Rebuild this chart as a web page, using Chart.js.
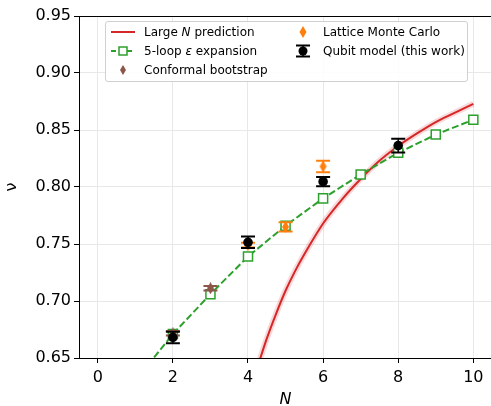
<!DOCTYPE html>
<html>
<head>
<meta charset="utf-8">
<script src="https://cdn.jsdelivr.net/npm/chart.js@4/dist/chart.umd.min.js"></script>
<style>
  html, body { margin: 0; padding: 0; background: #fff; overflow: hidden; }
  #wrap { position: relative; width: 500px; height: 406px; }
  .legend {
    position: absolute; left: 105px; top: 21px; width: 361px; height: 59px;
    border: 1px solid #d0d0d0; border-radius: 3px; background: rgba(255,255,255,0.85);
    font-family: 'DejaVu Sans', sans-serif; font-size: 12px; color: #000;
  }
  .item { position: absolute; white-space: nowrap; line-height: 14px; }
  .item svg { position: absolute; top: 0; }
</style>
</head>
<body>
<div id="wrap">
  <canvas id="chart"></canvas>
  <div class="legend">
    <div class="item" style="left:4px;top:3px;">
      <svg width="26" height="14" style="left:0"><line x1="1" y1="7" x2="25" y2="7" stroke="#d62728" stroke-width="2"/></svg>
      <span style="margin-left:34px">Large <i>N</i> prediction</span>
    </div>
    <div class="item" style="left:4px;top:22px;">
      <svg width="26" height="14" style="left:0"><line x1="1" y1="7" x2="25" y2="7" stroke="#2ca02c" stroke-width="2" stroke-dasharray="5 3"/><rect x="9" y="3" width="8" height="8" fill="#fff" stroke="#2ca02c" stroke-width="1.5"/></svg>
      <span style="margin-left:34px">5-loop <i>ε</i> expansion</span>
    </div>
    <div class="item" style="left:4px;top:41px;">
      <svg width="26" height="14" style="left:0"><polygon points="13,2 16,7 13,12 10,7" fill="#8c564b"/></svg>
      <span style="margin-left:34px">Conformal bootstrap</span>
    </div>
    <div class="item" style="left:184px;top:3px;">
      <svg width="26" height="14" style="left:0"><polygon points="13,1 16.5,7 13,13 9.5,7" fill="#ff7f0e"/></svg>
      <span style="margin-left:33px">Lattice Monte Carlo</span>
    </div>
    <div class="item" style="left:184px;top:22px;">
      <svg width="26" height="14" style="left:0"><line x1="13" y1="1" x2="13" y2="13" stroke="#000" stroke-width="1.5"/><line x1="6" y1="1.5" x2="20" y2="1.5" stroke="#000" stroke-width="2"/><line x1="6" y1="12.5" x2="20" y2="12.5" stroke="#000" stroke-width="2"/><circle cx="13" cy="7" r="4.5" fill="#000"/></svg>
      <span style="margin-left:33px">Qubit model (this work)</span>
    </div>
  </div>
</div>
<script>
// axis ticks
const xTicks = [0, 2, 4, 6, 8, 10];
const yTicks = [0.65, 0.70, 0.75, 0.80, 0.85, 0.90, 0.95];

// large N prediction (red curve)
const nLarge = [4.3, 4.5, 4.75, 5, 5.25, 5.5, 6, 6.5, 7, 7.5, 8, 8.5, 9, 9.5, 10];
const nuLarge = [0.647, 0.667, 0.689, 0.709, 0.726, 0.741, 0.768, 0.789, 0.807, 0.823, 0.836, 0.847, 0.857, 0.865, 0.873];

// 5-loop epsilon expansion
const nEps = [1, 2, 3, 4, 5, 6, 7, 8, 9, 10];
const nuEps = [0.630, 0.671, 0.706, 0.739, 0.766, 0.790, 0.811, 0.830, 0.846, 0.859];

// conformal bootstrap
const nCB = [2, 3];
const nuCB = [0.6717, 0.7112];
const errCB = [0.002, 0.002];

// lattice Monte Carlo
const nLMC = [4, 5, 6];
const nuLMC = [0.749, 0.765, 0.818];
const errLMC = [0.002, 0.004, 0.005];

// qubit model (this work)
const nQ = [2, 4, 6, 8];
const nuQ = [0.668, 0.7515, 0.8047, 0.8363];
const errQ = [0.005, 0.005, 0.004, 0.006];

const pts = (xs, ys) => xs.map((x, i) => ({ x: x, y: ys[i] }));

// thin diamond marker like matplotlib 'd'
function thinDiamond(color) {
  const c = document.createElement('canvas');
  c.width = 9; c.height = 12;
  const g = c.getContext('2d');
  g.fillStyle = color;
  g.beginPath();
  g.moveTo(4.5, 0); g.lineTo(8, 6); g.lineTo(4.5, 12); g.lineTo(1, 6);
  g.closePath();
  g.fill();
  return c;
}

// error bars drawn right under each dataset's markers
const errorBars = {
  id: 'errorBars',
  beforeDatasetDraw(chart, args) {
    const ds = chart.data.datasets[args.index];
    if (!ds.errors) return;
    const { ctx, chartArea, scales } = chart;
    ctx.save();
    ctx.beginPath();
    ctx.rect(chartArea.left, chartArea.top, chartArea.right - chartArea.left, chartArea.bottom - chartArea.top);
    ctx.clip();
    ctx.strokeStyle = ds.errColor;
    ds.data.forEach((p, i) => {
      const x = scales.x.getPixelForValue(p.x);
      const y1 = scales.y.getPixelForValue(p.y + ds.errors[i]);
      const y2 = scales.y.getPixelForValue(p.y - ds.errors[i]);
      ctx.lineWidth = 1.5;
      ctx.beginPath();
      ctx.moveTo(x, y1); ctx.lineTo(x, y2);
      ctx.stroke();
      ctx.lineWidth = 2;
      ctx.beginPath();
      ctx.moveTo(x - 7, y1); ctx.lineTo(x + 7, y1);
      ctx.moveTo(x - 7, y2); ctx.lineTo(x + 7, y2);
      ctx.stroke();
    });
    ctx.restore();
  }
};

// top spine
const topSpine = {
  id: 'topSpine',
  afterDraw(chart) {
    const { ctx, chartArea } = chart;
    ctx.save();
    ctx.strokeStyle = '#000';
    ctx.lineWidth = 1;
    ctx.beginPath();
    ctx.moveTo(chartArea.left, chartArea.top + 0.5);
    ctx.lineTo(chartArea.right, chartArea.top + 0.5);
    ctx.stroke();
    ctx.restore();
  }
};

Chart.defaults.font.family = "'DejaVu Sans', sans-serif";
Chart.defaults.color = '#000';

new Chart(document.getElementById('chart'), {
  type: 'scatter',
  data: {
    datasets: [
      {
        label: 'Qubit model (this work)',
        data: pts(nQ, nuQ),
        errors: errQ, errColor: '#000',
        pointStyle: 'circle', pointRadius: 4.8,
        backgroundColor: '#000', borderColor: '#000', borderWidth: 0,
        order: 1
      },
      {
        label: 'Lattice Monte Carlo',
        data: pts(nLMC, nuLMC),
        errors: errLMC, errColor: '#ff7f0e',
        pointStyle: thinDiamond('#ff7f0e'), pointRadius: 5,
        order: 2
      },
      {
        label: 'Conformal bootstrap',
        data: pts(nCB, nuCB),
        errors: errCB, errColor: '#8c564b',
        pointStyle: thinDiamond('#8c564b'), pointRadius: 5,
        order: 3
      },
      {
        label: '5-loop ε expansion',
        data: pts(nEps, nuEps),
        showLine: true,
        borderColor: '#2ca02c', borderWidth: 2, borderDash: [7, 3],
        pointStyle: 'rect', pointRadius: 6.4,
        pointBackgroundColor: '#fff', pointBorderColor: '#2ca02c', pointBorderWidth: 1.5,
        order: 4
      },
      {
        label: 'Large N prediction',
        data: pts(nLarge, nuLarge),
        showLine: true, cubicInterpolationMode: 'monotone',
        borderColor: '#d62728', borderWidth: 2, pointRadius: 0,
        order: 5
      },
      {
        label: 'Large N band',
        data: pts(nLarge, nuLarge),
        showLine: true, cubicInterpolationMode: 'monotone',
        borderColor: 'rgba(214,39,40,0.18)', borderWidth: 6, pointRadius: 0,
        order: 6
      }
    ]
  },
  options: {
    responsive: true,
    maintainAspectRatio: false,
    animation: false,
    layout: { padding: { top: 16, right: 7, left: 0, bottom: 0 } },
    plugins: { legend: { display: false }, tooltip: { enabled: false } },
    scales: {
      x: {
        type: 'linear', min: -0.5, max: 10.5,
        afterBuildTicks: s => { s.ticks = xTicks.map(v => ({ value: v })); },
        afterFit: s => { s.height = 48; },
        grid: { color: '#e8e8e8', tickColor: '#000', tickLength: 5 },
        border: { color: '#000', width: 1 },
        ticks: { font: { size: 16 }, padding: 5, maxRotation: 0 },
        title: { display: true, text: 'N', font: { size: 16, style: 'italic' }, padding: { top: 0, bottom: -3 } }
      },
      y: {
        type: 'linear', min: 0.65, max: 0.95,
        afterBuildTicks: s => { s.ticks = yTicks.map(v => ({ value: v })); },
        afterFit: s => { s.width = 79; },
        grid: { color: '#e8e8e8', tickColor: '#000', tickLength: 5 },
        border: { color: '#000', width: 1 },
        ticks: { font: { size: 16 }, padding: 3, callback: v => v.toFixed(2) },
        title: { display: true, text: 'ν', font: { size: 16 }, padding: { top: 2, bottom: 0 } }
      }
    }
  },
  plugins: [errorBars, topSpine]
});
</script>
</body>
</html>
